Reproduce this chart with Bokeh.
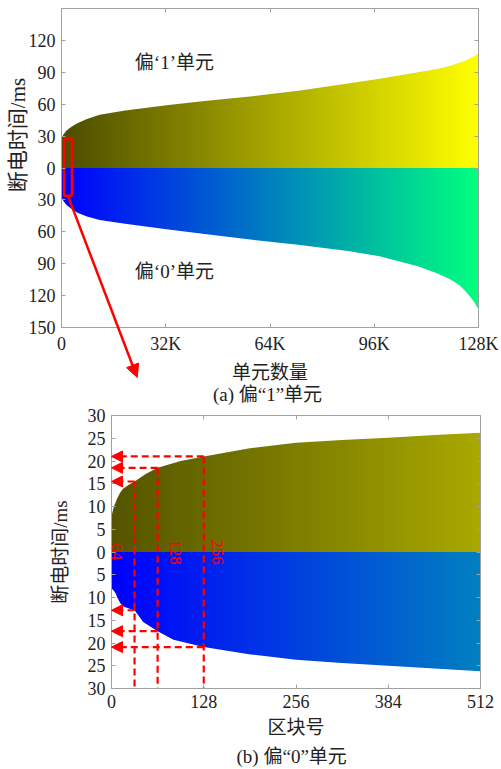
import numpy as np
from bokeh.plotting import figure
from bokeh.layouts import column
from bokeh.models import (Range1d, FixedTicker, LinearAxis, Label, Arrow,
                          NormalHead, ColumnDataSource)
from bokeh.embed import file_html
from bokeh.resources import INLINE
from bokeh.core.properties import value

# ---------------- (a) whole array: power-off time per cell ----------------
cells1_x = [0, 500, 1500, 3000, 5000, 8000, 12000, 20000, 33000, 45000, 60000,
            75000, 90000, 100000, 112000, 118000, 122000, 126000, 129000, 131072]
bias1_ms = [27, 31, 35, 38.5, 42, 46, 50, 54, 59, 63, 67.5,
            73, 79.5, 84, 90, 93, 96, 100, 104, 108]
cells0_x = [0, 500, 1500, 3000, 5000, 8000, 12000, 20000, 33000, 45000, 60000,
            75000, 90000, 100000, 112000, 118000, 122000, 125000, 127500, 129500, 131072]
bias0_ms = [-27, -30.5, -34.5, -38, -42, -45.5, -49, -52.5, -57.5, -62, -67.5,
            -72.5, -78, -83, -92.5, -99, -104.5, -110, -117.5, -125, -133]
cells_lim = [0, 131072]
time_lim_a = [-150, 150]
cells_ticks = [0, 32768, 65536, 98304, 131072]
cells_tick_labels = ["0", "32K", "64K", "96K", "128K"]
time_ticks_a = [-150, -120, -90, -60, -30, 0, 30, 60, 90, 120, 150]
time_tick_labels_a = ["150", "120", "90", "60", "30", "0", "30", "60", "90", "120", ""]
zoom_box_x = [800, 3300]
zoom_box_y = [-26, 27]
zoom_arrow_x = [2000, 23800]
zoom_arrow_y = [-26, -197]

# ---------------- (b) first 512 blocks ----------------
blocks1_x = [0, 1, 2, 4, 6, 8, 12, 16, 24, 32, 48, 64, 96, 128, 192, 256, 320, 384, 448, 512]
blk_bias1 = [7.5, 8.5, 9.2, 10.3, 11, 11.8, 13, 13.9, 14.8, 15.5, 17.2, 18.5, 20, 21,
             22.8, 24, 24.6, 25.1, 25.7, 26.2]
blocks0_x = [0, 2, 4, 6, 8, 12, 16, 24, 32, 44, 64, 86, 128, 193, 256, 320, 384, 448, 512]
blk_bias0 = [-8, -8.3, -8.7, -9.2, -10, -11.2, -11.9, -12.4, -12.8, -15.4, -17.4, -19.3,
             -20.9, -22.5, -23.7, -24.4, -25, -25.6, -26.2]
block_lim = [0, 512]
time_lim_b = [-30, 30]
block_ticks = [0, 128, 256, 384, 512]
block_tick_labels = ["0", "128", "256", "384", "512"]
time_ticks_b = [-30, -25, -20, -15, -10, -5, 0, 5, 10, 15, 20, 25, 30]
time_tick_labels_b = ["30", "25", "20", "15", "10", "5", "0", "5", "10", "15", "20", "25", "30"]
block_marks = [32, 64, 128]
mark_labels = ["64", "128", "256"]
hit_bias1 = [15.5, 18.5, 21]
hit_bias0 = [-12.8, -17.4, -20.9]

# ---------------- styles ----------------
SERIF = "Liberation Serif"
CJK = "Liberation Serif, Noto Sans CJK SC"
GREY = "#a0a0a0"
TXT = "#222222"
RED = "#ff0000"
W = 501


def ramp(c0, c1, n=256):
    t = np.linspace(0, 1, n)
    img = np.zeros((1, n), dtype=np.uint32)
    v = img.view(np.uint8).reshape((1, n, 4))
    for k in range(3):
        v[0, :, k] = np.round(255 * (c0[k] + (c1[k] - c0[k]) * t)).astype(np.uint8)
    v[0, :, 3] = 255
    return img


def add_axis(p, side, ticks, labels, show, bounds, fixed, label=None, label_standoff=10):
    ax = LinearAxis(ticker=FixedTicker(ticks=ticks),
                    major_label_overrides={t: s for t, s in zip(ticks, labels)},
                    bounds=tuple(bounds), fixed_location=fixed)
    ax.axis_line_color = GREY
    ax.major_tick_line_color = GREY
    ax.major_tick_in = 4
    ax.major_tick_out = 0
    ax.minor_tick_line_color = None
    if show:
        ax.major_label_text_font = SERIF
        ax.major_label_text_font_size = "18px"
        ax.major_label_text_color = TXT
        ax.major_label_standoff = 6
    else:
        ax.major_label_text_font_size = "1px"
        ax.major_label_text_color = None
        ax.major_label_standoff = 0
    if label:
        ax.axis_label = label
        ax.axis_label_text_font = CJK
        ax.axis_label_text_font_size = "19px"
        ax.axis_label_text_font_style = "normal"
        ax.axis_label_text_color = TXT
        ax.axis_label_standoff = label_standoff
    p.add_layout(ax, side)
    return ax


def panel(h, xlim, ylim, left_px, right_px, top_px, bottom_px):
    """Figure whose frame fills the whole canvas; the data box [xlim]x[ylim]
    sits at the given pixel edges, the axes are pinned to its sides."""
    sx = (xlim[1] - xlim[0]) / (right_px - left_px)
    sy = (ylim[1] - ylim[0]) / (bottom_px - top_px)
    xr = Range1d(xlim[0] - left_px * sx, xlim[1] + (W - right_px) * sx)
    yr = Range1d(ylim[0] - (h - bottom_px) * sy, ylim[1] + top_px * sy)
    p = figure(width=W, height=h, x_range=xr, y_range=yr,
               output_backend="svg", toolbar_location=None,
               x_axis_location=None, y_axis_location=None,
               min_border=0)
    p.frame_align = False
    p.grid.grid_line_color = None
    p.outline_line_color = None
    p.background_fill_color = "white"
    p.border_fill_color = "white"
    return p, sx, sy


# ================= figure (a) =================
A_H = 405
p1, cpp, mpp = panel(A_H, cells_lim, time_lim_a, 61, 478, 8, 327)

p1.image_rgba(image=[ramp((0.30, 0.30, 0.0), (1.0, 1.0, 0.0))],
              x=cells_lim[0], y=0, dw=cells_lim[1] - cells_lim[0], dh=time_lim_a[1])
p1.image_rgba(image=[ramp((0.0, 0.0, 1.0), (0.0, 1.0, 0.5))],
              x=cells_lim[0], y=time_lim_a[0], dw=cells_lim[1] - cells_lim[0],
              dh=-time_lim_a[0])
p1.varea(x=cells1_x, y1=bias1_ms, y2=time_lim_a[1], fill_color="white")
p1.varea(x=cells0_x, y1=time_lim_a[0], y2=bias0_ms, fill_color="white")

p1.quad(left=[zoom_box_x[0]], right=[zoom_box_x[1]], bottom=[zoom_box_y[0]],
        top=[zoom_box_y[1]], fill_color=None, line_color=RED, line_width=2.5)
p1.add_layout(Arrow(x_start=zoom_arrow_x[0], y_start=zoom_arrow_y[0],
                    x_end=zoom_arrow_x[1], y_end=zoom_arrow_y[1],
                    line_color=RED, line_width=2.5,
                    end=NormalHead(size=13, fill_color=RED, line_color=RED)))

add_axis(p1, "below", cells_ticks, cells_tick_labels, True, cells_lim, time_lim_a[0],
         "单元数量", 5)
add_axis(p1, "left", time_ticks_a, time_tick_labels_a, True, time_lim_a, cells_lim[0])
add_axis(p1, "above", cells_ticks, cells_tick_labels, False, cells_lim, time_lim_a[1])
add_axis(p1, "right", time_ticks_a, time_tick_labels_a, False, time_lim_a, cells_lim[1])

p1.add_layout(Label(x=35500, y=99, text="偏‘1’单元", text_font=CJK,
                    text_font_size="19px", text_color=TXT,
                    text_align="center", text_baseline="middle"))
p1.add_layout(Label(x=35500, y=-97, text="偏‘0’单元", text_font=CJK,
                    text_font_size="19px", text_color=TXT,
                    text_align="center", text_baseline="middle"))
p1.add_layout(Label(x=cells_lim[0] - 44 * cpp, y=31, text="断电时间/ms", angle=np.pi / 2,
                    text_font=CJK, text_font_size="21px", text_color=TXT,
                    text_align="center", text_baseline="middle"))
p1.add_layout(Label(x=64750, y=time_lim_a[0] - 67 * mpp,
                    text="(a) 偏“1”单元", text_font=CJK,
                    text_font_size="19px", text_color=TXT,
                    text_align="center", text_baseline="middle"))

# ================= figure (b) =================
B_H = 364
p2, bpp, mpp_b = panel(B_H, block_lim, time_lim_b, 111, 480, 10, 283)

p2.image_rgba(image=[ramp((0.33, 0.33, 0.0), (0.66, 0.66, 0.0))],
              x=block_lim[0], y=0, dw=block_lim[1] - block_lim[0], dh=time_lim_b[1])
p2.image_rgba(image=[ramp((0.0, 0.0, 1.0), (0.0, 0.5, 0.75))],
              x=block_lim[0], y=time_lim_b[0], dw=block_lim[1] - block_lim[0],
              dh=-time_lim_b[0])
p2.varea(x=blocks1_x, y1=blk_bias1, y2=time_lim_b[1], fill_color="white")
p2.varea(x=blocks0_x, y1=time_lim_b[0], y2=blk_bias0, fill_color="white")

p2.segment(x0=block_marks, y0=hit_bias1, x1=block_marks, y1=time_lim_b[0],
           line_color=RED, line_width=2.2, line_dash="7 4")

arrow_src = ColumnDataSource(dict(
    xs=block_marks + block_marks,
    ys=hit_bias1 + hit_bias0,
    xe=[block_lim[0]] * (2 * len(block_marks)),
))
p2.add_layout(Arrow(x_start="xs", y_start="ys", x_end="xe", y_end="ys",
                    source=arrow_src, line_color=RED, line_width=2.2, line_dash="7 4",
                    end=NormalHead(size=11, fill_color=RED, line_color=RED)))

lab_src = ColumnDataSource(dict(x=block_marks, y=[0] * len(block_marks),
                                t=mark_labels, dx=[-18, 18, 14]))
p2.text(x="x", y="y", text="t", x_offset="dx", source=lab_src, angle=-np.pi / 2,
        text_align="center", text_baseline="middle", text_color=RED,
        text_font=value(SERIF), text_font_size="17px")

add_axis(p2, "below", block_ticks, block_tick_labels, True, block_lim, time_lim_b[0],
         "区块号", 6)
add_axis(p2, "left", time_ticks_b, time_tick_labels_b, True, time_lim_b, block_lim[0],
         "断电时间/ms", 14)
add_axis(p2, "above", block_ticks, block_tick_labels, False, block_lim, time_lim_b[1])
add_axis(p2, "right", time_ticks_b, time_tick_labels_b, False, time_lim_b, block_lim[1])

p2.add_layout(Label(x=250, y=time_lim_b[0] - 68 * mpp_b,
                    text="(b) 偏“0”单元", text_font=CJK,
                    text_font_size="19px", text_color=TXT,
                    text_align="center", text_baseline="middle"))

layout = column(p1, p2)
open("out.html", "w").write(file_html(layout, INLINE))
